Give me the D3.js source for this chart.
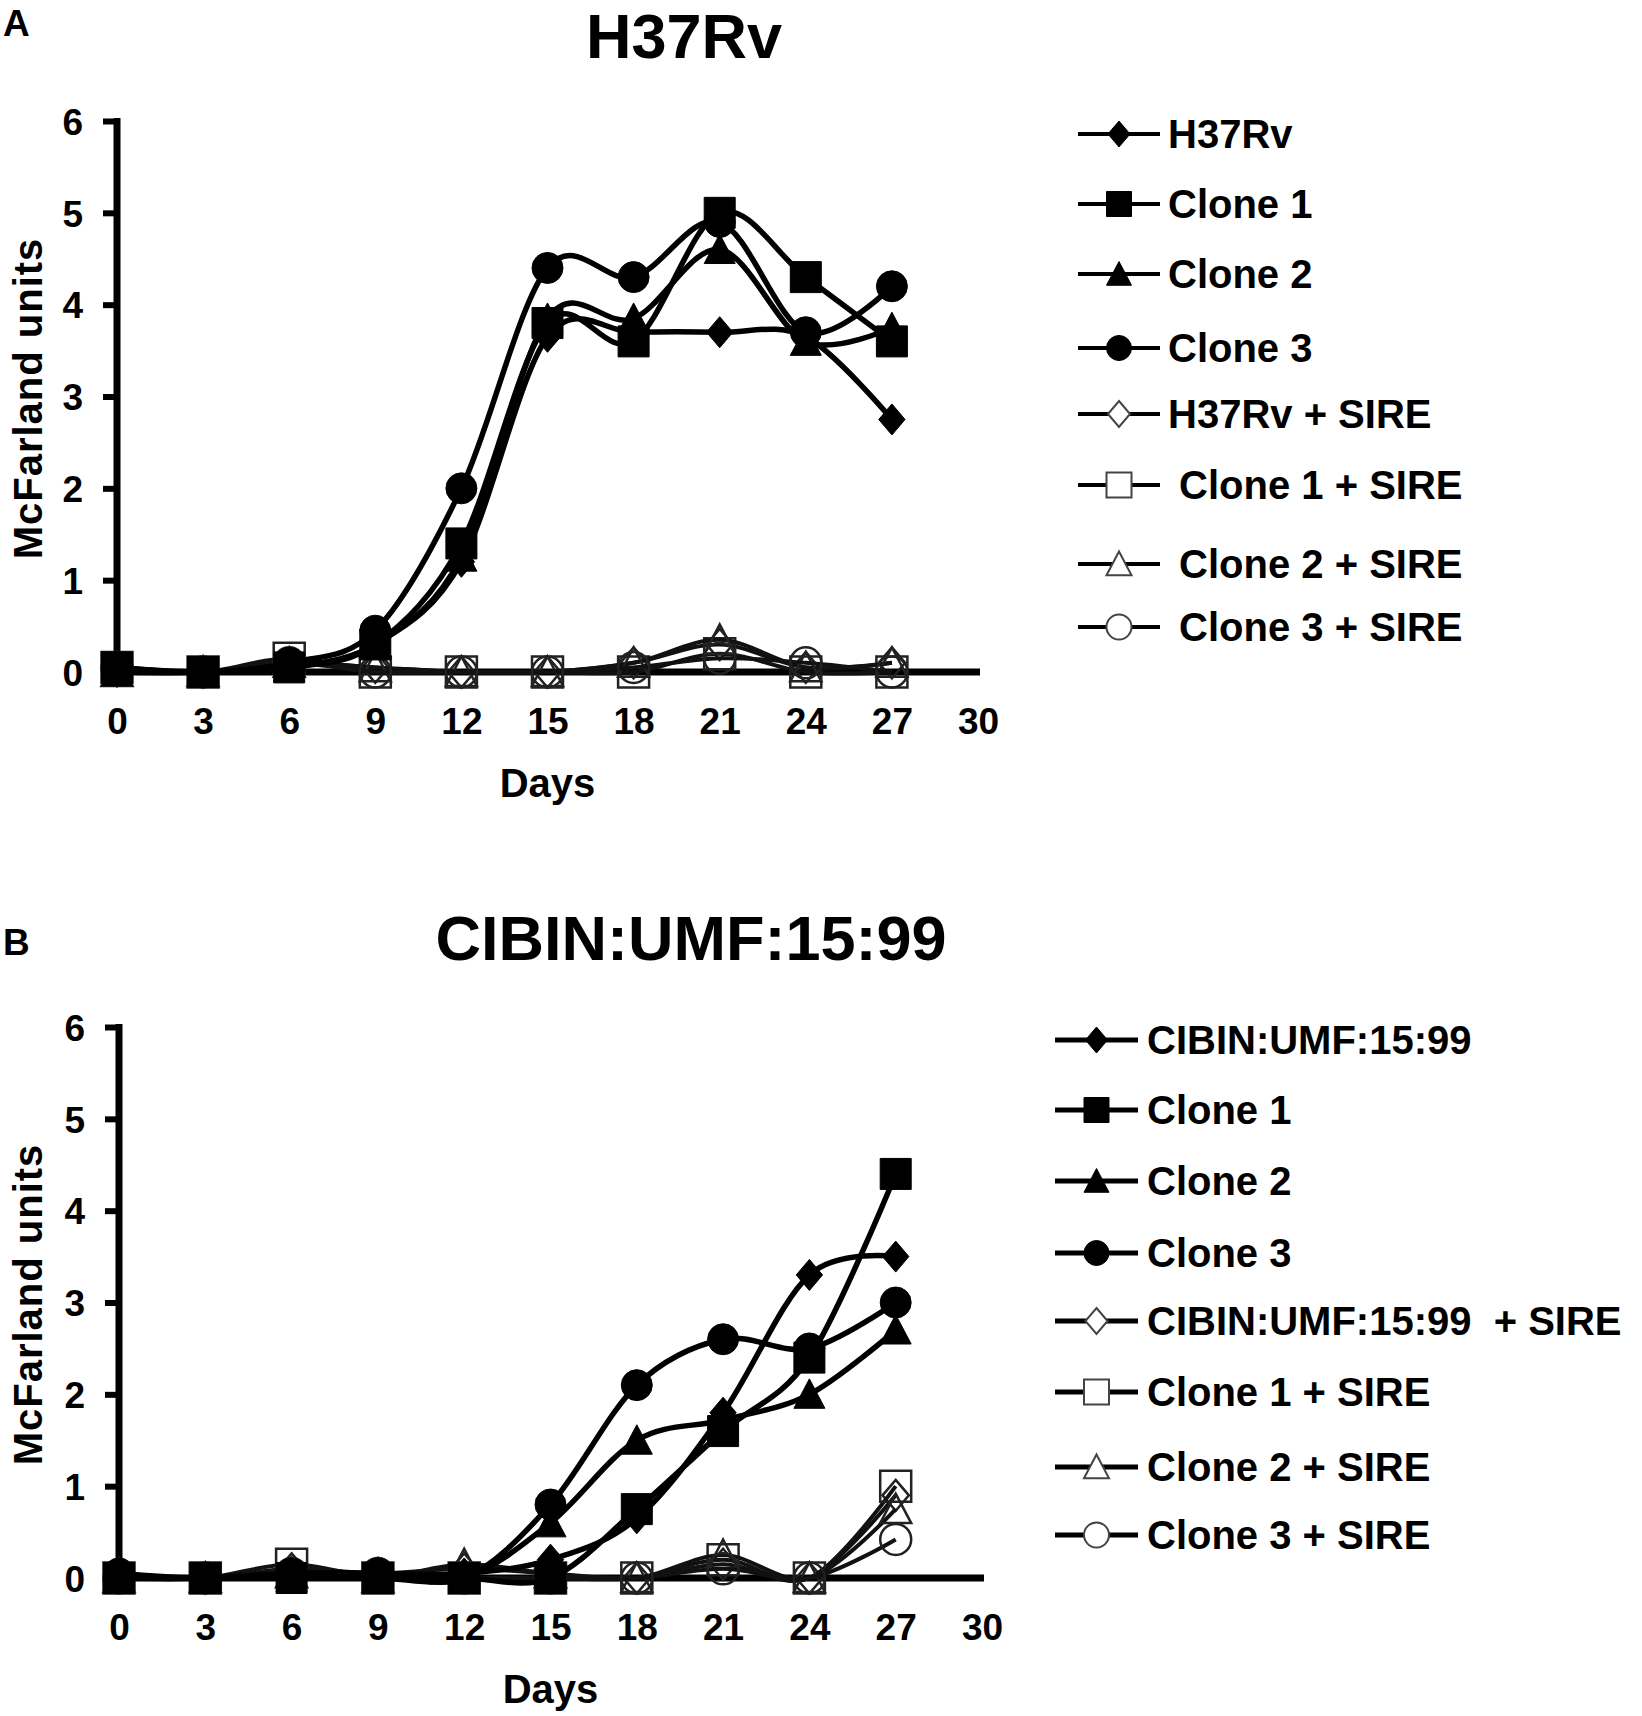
<!DOCTYPE html>
<html>
<head>
<meta charset="utf-8">
<script src="https://cdn.jsdelivr.net/npm/d3@7"></script>
<style>
  html, body { margin: 0; padding: 0; background: #fff; }
  svg { display: block; }
  text { font-family: "Liberation Sans", Arial, sans-serif; font-weight: bold; fill: #000; }
</style>
</head>
<body>
<svg id="chart" width="1642" height="1716"></svg>
<script>
// ---------- DATA ----------
const days = [0, 3, 6, 9, 12, 15, 18, 21, 24, 27];
const xTickValues = [0, 3, 6, 9, 12, 15, 18, 21, 24, 27, 30];
const yTickValues = [0, 1, 2, 3, 4, 5, 6];

// Panel A: H37Rv
const aNames = ["H37Rv", "Clone 1", "Clone 2", "Clone 3",
                "H37Rv + SIRE", " Clone 1 + SIRE", " Clone 2 + SIRE", " Clone 3 + SIRE"];
const aH37Rv       = [0,    0, 0.05, 0.30, 1.20, 3.65, 3.70, 3.70, 3.65, 2.75];
const aClone1      = [0.05, 0, 0.05, 0.30, 1.40, 3.80, 3.60, 5.00, 4.30, 3.60];
const aClone2      = [0,    0, 0.05, 0.30, 1.25, 3.85, 3.85, 4.60, 3.60, 3.75];
const aClone3      = [0.05, 0, 0.10, 0.45, 2.00, 4.40, 4.30, 4.90, 3.70, 4.20];
const aH37RvSIRE   = [0.05, 0, 0.10, 0.05, 0,    0,    0.10, 0.30, 0.05, 0.10];
const aClone1SIRE  = [0.05, 0, 0.15, 0,    0,    0,    0,    0.20, 0,    0];
const aClone2SIRE  = [0,    0, 0.10, 0.05, 0,    0,    0.10, 0.35, 0.05, 0.10];
const aClone3SIRE  = [0.05, 0, 0.10, 0,    0,    0,    0.05, 0.15, 0.10, 0];

// Panel B: CIBIN:UMF:15:99
const bNames = ["CIBIN:UMF:15:99", "Clone 1", "Clone 2", "Clone 3",
                "CIBIN:UMF:15:99  + SIRE", "Clone 1 + SIRE", "Clone 2 + SIRE", "Clone 3 + SIRE"];
const bCIBIN       = [0,    0, 0.05, 0.05, 0.05, 0.20, 0.65, 1.80, 3.30, 3.50];
const bClone1      = [0,    0, 0,    0,    0,    0,    0.75, 1.60, 2.40, 4.40];
const bClone2      = [0,    0, 0,    0,    0,    0.60, 1.50, 1.72, 2.00, 2.70];
const bClone3      = [0.05, 0, 0.05, 0.05, 0,    0.80, 2.10, 2.60, 2.50, 3.00];
const bCIBINSIRE   = [0.05, 0, 0.10, 0.05, 0.10, 0.05, 0,    0.15, 0,    0.90];
const bClone1SIRE  = [0,    0, 0.15, 0,    0,    0,    0,    0.20, 0,    1.00];
const bClone2SIRE  = [0,    0, 0.05, 0,    0.15, 0.05, 0,    0.25, 0,    0.75];
const bClone3SIRE  = [0,    0, 0.05, 0.05, 0,    0,    0,    0.10, 0,    0.42];

const shapes = ["diamond", "square", "triangle", "circle", "diamond", "square", "triangle", "circle"];
const filled = [true, true, true, true, false, false, false, false];

// ---------- DRAWING ----------
const svg = d3.select("#chart");

function markerPath(shape, s) {
  const p = d3.path();
  const h = s / 2;
  if (shape === "square") {
    p.rect(-h, -h, s, s);
  } else if (shape === "circle") {
    p.moveTo(h, 0); p.arc(0, 0, h, 0, 2 * Math.PI);
  } else if (shape === "triangle") {
    p.moveTo(0, -h); p.lineTo(h, h * 0.9); p.lineTo(-h, h * 0.9); p.closePath();
  } else if (shape === "diamond") {
    const w = h * 0.85;
    p.moveTo(0, -h); p.lineTo(w, 0); p.lineTo(0, h); p.lineTo(-w, 0); p.closePath();
  }
  return p.toString();
}

function drawPanel(cfg) {
  const g = svg.append("g");
  const x = d3.scaleLinear().domain([0, 30]).range([cfg.x0, cfg.x1]);
  const y = d3.scaleLinear().domain([0, 6]).range([cfg.y0, cfg.y1]);

  // panel letter and title
  g.append("text").attr("x", 3).attr("y", cfg.letterY).attr("font-size", 37).text(cfg.letter);
  g.append("text").attr("x", cfg.titleX).attr("y", cfg.titleY).attr("text-anchor", "middle")
    .attr("font-size", 63).text(cfg.title);

  // y axis
  const yAxis = d3.axisLeft(y).tickValues(yTickValues).tickSize(14).tickPadding(20).tickFormat(d3.format("d"));
  const ya = g.append("g").attr("transform", `translate(${cfg.x0},0)`).call(yAxis);
  ya.select(".domain").attr("stroke", "#000").attr("stroke-width", 7)
    .attr("d", `M0,${y(6) - 3}V${y(0)}`);
  ya.selectAll(".tick line").attr("stroke", "#000").attr("stroke-width", 6);
  ya.selectAll(".tick text").attr("font-size", 37).attr("font-family", "Liberation Sans, Arial, sans-serif")
    .attr("font-weight", "bold").attr("fill", "#000").attr("dy", "0.36em");

  // x axis
  const xAxis = d3.axisBottom(x).tickValues(xTickValues).tickSize(0).tickPadding(36).tickFormat(d3.format("d"));
  const xa = g.append("g").attr("transform", `translate(0,${cfg.y0})`).call(xAxis);
  xa.select(".domain").attr("stroke", "#000").attr("stroke-width", 7)
    .attr("d", `M${cfg.x0},0H${cfg.x1 + 2}`);
  xa.selectAll(".tick text").attr("font-size", 37).attr("font-family", "Liberation Sans, Arial, sans-serif")
    .attr("font-weight", "bold").attr("fill", "#000");

  // axis titles
  g.append("text").attr("x", (cfg.x0 + cfg.x1) / 2).attr("y", cfg.daysY).attr("text-anchor", "middle")
    .attr("font-size", 40).text("Days");
  g.append("text").attr("transform", `translate(42,${(cfg.y0 + cfg.y1) / 2 + 2}) rotate(-90)`)
    .attr("text-anchor", "middle").attr("font-size", 40).attr("letter-spacing", 1).text("McFarland units");

  const line = d3.line().x((d, i) => x(days[i])).y(d => y(d)).curve(d3.curveCatmullRom.alpha(0));

  // draw open (+SIRE) series first, then filled series on top
  const order = [4, 5, 6, 7, 0, 1, 2, 3];
  order.forEach(k => {
    const vals = cfg.series[k];
    const sg = g.append("g");
    sg.append("path").attr("d", line(vals)).attr("fill", "none")
      .attr("stroke", filled[k] ? "#000" : "#111").attr("stroke-width", filled[k] ? 5.5 : 4);
    sg.selectAll("path.m").data(vals).join("path").attr("class", "m")
      .attr("transform", (d, i) => `translate(${x(days[i])},${y(d)})`)
      .attr("d", markerPath(shapes[k], 31))
      .attr("fill", filled[k] ? "#000" : "none")
      .attr("stroke", filled[k] ? "#000" : "#222")
      .attr("stroke-width", filled[k] ? 1 : 2.5);
  });

  // legend
  const lg = g.append("g");
  cfg.names.forEach((name, k) => {
    const ly = cfg.legendY[k];
    lg.append("line").attr("x1", cfg.legX0).attr("x2", cfg.legX1).attr("y1", ly).attr("y2", ly)
      .attr("stroke", "#000").attr("stroke-width", cfg.legLineW);
    lg.append("path").attr("transform", `translate(${(cfg.legX0 + cfg.legX1) / 2},${ly})`)
      .attr("d", markerPath(shapes[k], shapes[k] === "diamond" ? 26 : 25))
      .attr("fill", filled[k] ? "#000" : "#fff")
      .attr("stroke", filled[k] ? "#000" : "#444")
      .attr("stroke-width", filled[k] ? 1 : 2);
    lg.append("text").attr("x", cfg.legTextX).attr("y", ly).attr("dy", "0.36em")
      .attr("font-size", 40).attr("xml:space", "preserve").style("white-space", "pre").text(name);
  });
}

drawPanel({
  letter: "A", letterY: 36, title: "H37Rv", titleX: 684, titleY: 58,
  x0: 117, x1: 978, y0: 672, y1: 121, daysY: 797,
  series: [aH37Rv, aClone1, aClone2, aClone3, aH37RvSIRE, aClone1SIRE, aClone2SIRE, aClone3SIRE],
  names: aNames,
  legendY: [134, 204, 274, 348, 414, 485, 564, 627],
  legX0: 1078, legX1: 1160, legTextX: 1168, legLineW: 4
});

drawPanel({
  letter: "B", letterY: 955, title: "CIBIN:UMF:15:99", titleX: 691, titleY: 960,
  x0: 119, x1: 982, y0: 1578, y1: 1027, daysY: 1703,
  series: [bCIBIN, bClone1, bClone2, bClone3, bCIBINSIRE, bClone1SIRE, bClone2SIRE, bClone3SIRE],
  names: bNames,
  legendY: [1040, 1110, 1181, 1253, 1321, 1392, 1467, 1535],
  legX0: 1055, legX1: 1138, legTextX: 1147, legLineW: 5
});
</script>
</body>
</html>
